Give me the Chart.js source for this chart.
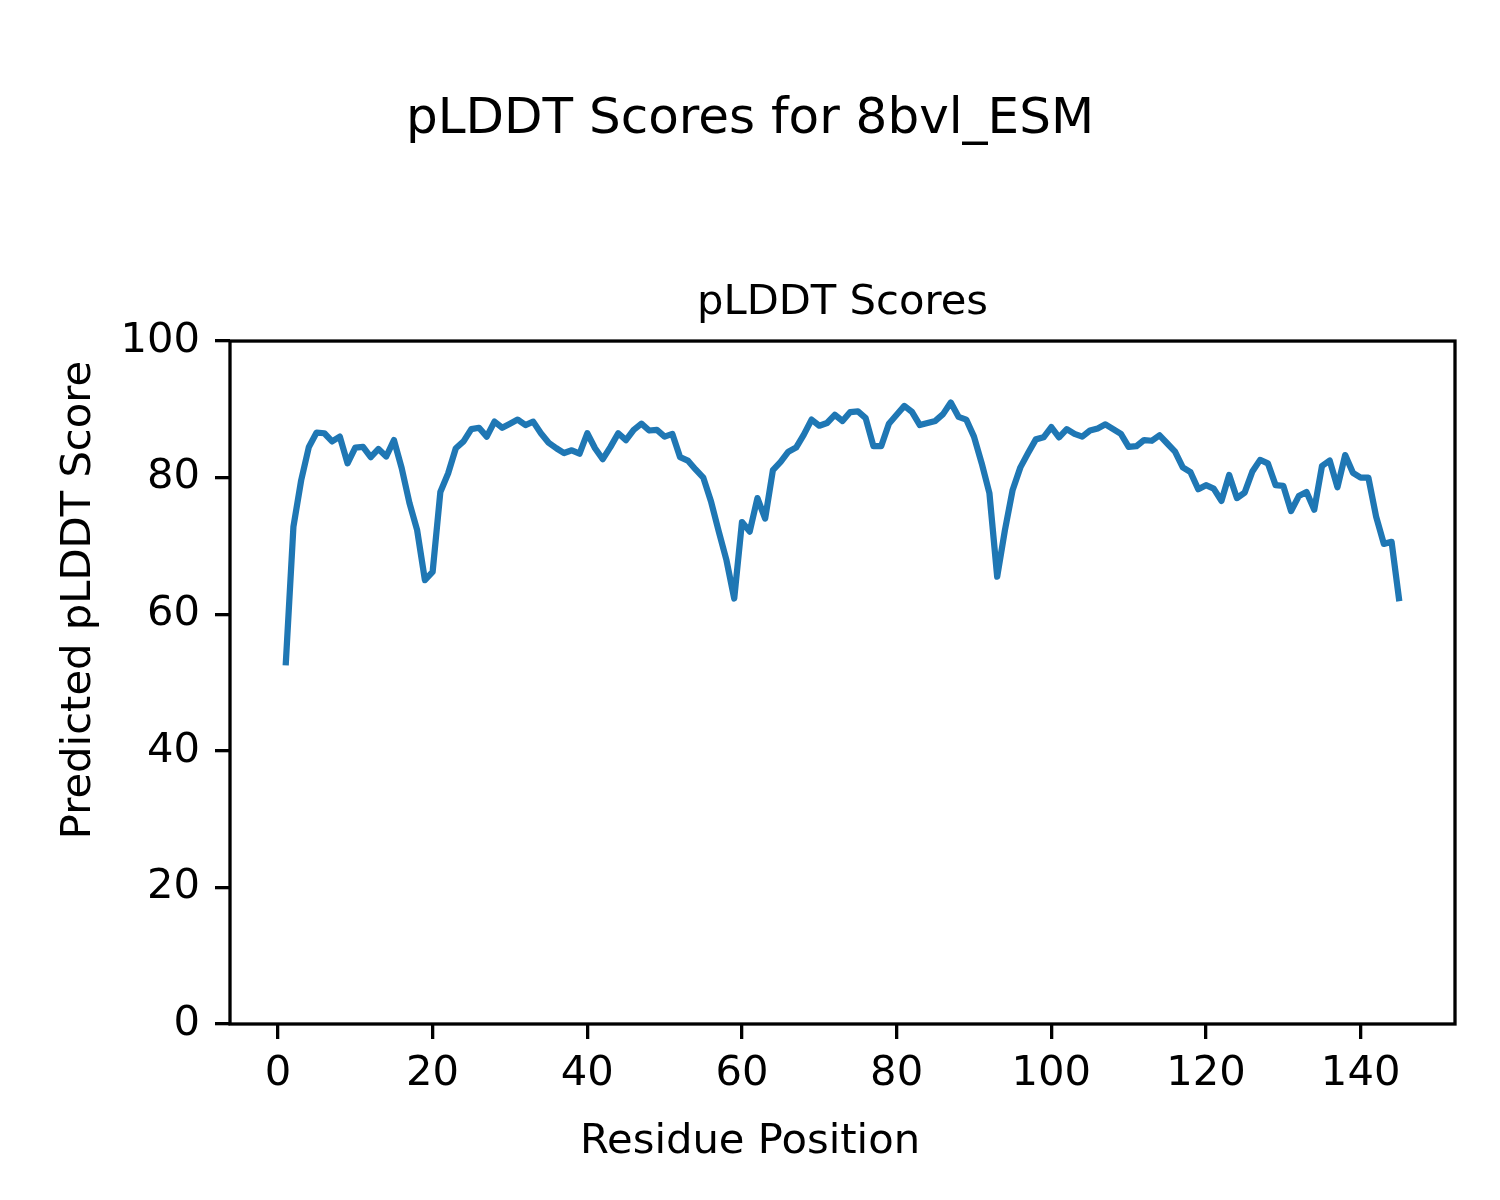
<!DOCTYPE html>
<html>
<head>
<meta charset="utf-8">
<script src="https://cdn.jsdelivr.net/npm/chart.js@4.4.1/dist/chart.umd.min.js"></script>
<style>
  html, body { margin: 0; padding: 0; background: #fff; }
  #wrap { width: 1500px; height: 1200px; }
</style>
</head>
<body>
<div id="wrap"><canvas id="plddtChart" width="1500" height="1200"></canvas></div>
<script>
// residue positions 1..145 and their pLDDT scores
const residues = [];
for (let i = 1; i <= 145; i++) residues.push(i);

const plddt = [
  52.5, 72.8, 79.6, 84.5, 86.6, 86.5, 85.3, 86.0, 82.1, 84.4,
  84.5, 83.0, 84.2, 83.1, 85.5, 81.4, 76.3, 72.3, 65.0, 66.2,
  77.9, 80.6, 84.3, 85.3, 87.1, 87.3, 86.0, 88.2, 87.3, 87.9,
  88.5, 87.7, 88.2, 86.5, 85.1, 84.3, 83.6, 84.0, 83.5, 86.5,
  84.3, 82.7, 84.5, 86.5, 85.5, 87.0, 87.9, 86.9, 87.0, 86.0,
  86.4, 83.0, 82.5, 81.2, 80.0, 76.5, 72.1, 67.9, 62.3, 73.5,
  72.1, 77.0, 74.0, 81.1, 82.3, 83.8, 84.4, 86.3, 88.5, 87.6,
  88.0, 89.2, 88.3, 89.6, 89.7, 88.7, 84.6, 84.6, 87.9, 89.2,
  90.5, 89.6, 87.7, 88.0, 88.3, 89.3, 91.0, 88.9, 88.5, 86.0,
  82.1, 77.7, 65.5, 72.3, 78.2, 81.5, 83.6, 85.6, 85.9, 87.4,
  85.9, 87.1, 86.4, 86.0, 86.9, 87.2, 87.8, 87.1, 86.4, 84.5,
  84.6, 85.5, 85.4, 86.2, 85.0, 83.8, 81.5, 80.8, 78.3, 78.9,
  78.4, 76.6, 80.4, 77.0, 77.8, 80.9, 82.6, 82.1, 78.9, 78.8,
  75.1, 77.3, 77.9, 75.3, 81.7, 82.5, 78.6, 83.3, 80.7, 80.0,
  80.0, 74.3, 70.3, 70.6, 61.9
];

const xTicks = [0, 20, 40, 60, 80, 100, 120, 140];
const yTicks = [0, 20, 40, 60, 80, 100];

const xLabel = 'Residue Position';
const yLabel = 'Predicted pLDDT Score';

const FONT = 'DejaVu Sans';

// box round the axes + figure-level axis labels (centred on the figure, not the axes)
const frame = {
  id: 'frame',
  afterDraw(chart) {
    const { ctx, chartArea: a, width, height } = chart;
    ctx.save();
    ctx.strokeStyle = '#000';
    ctx.lineWidth = 3.3;
    ctx.strokeRect(a.left, a.top, a.right - a.left, a.bottom - a.top);

    ctx.fillStyle = '#000';
    ctx.font = '41.7px "' + FONT + '"';
    ctx.textAlign = 'center';
    ctx.textBaseline = 'alphabetic';
    ctx.fillText(xLabel, width / 2, 1153);

    ctx.translate(90, height / 2);
    ctx.rotate(-Math.PI / 2);
    ctx.fillText(yLabel, 0, 0);
    ctx.restore();
  }
};

new Chart(document.getElementById('plddtChart'), {
  type: 'line',
  data: {
    datasets: [{
      data: residues.map((r, i) => ({ x: r, y: plddt[i] })),
      borderColor: '#1f77b4',
      borderWidth: 6.25,
      borderJoinStyle: 'round',
      borderCapStyle: 'butt',
      pointRadius: 0,
      tension: 0,
      fill: false
    }]
  },
  options: {
    responsive: false,
    animation: false,
    devicePixelRatio: 1,
    layout: { padding: { left: 45, right: 45, top: 0, bottom: 0 } },
    plugins: {
      legend: { display: false },
      tooltip: { enabled: false },
      title: {
        display: true,
        text: 'pLDDT Scores for 8bvl_ESM',
        color: '#000',
        font: { family: FONT, size: 50, weight: 'normal', lineHeight: 1.2 },
        padding: { top: 90, bottom: 128 }
      },
      subtitle: {
        display: true,
        fullSize: false,
        text: 'pLDDT Scores',
        color: '#000',
        font: { family: FONT, size: 41.7, weight: 'normal', lineHeight: 1.2 },
        padding: { top: 0, bottom: 13 }
      }
    },
    scales: {
      x: {
        type: 'linear',
        min: -6.2,
        max: 152.2,
        afterBuildTicks: (scale) => { scale.ticks = xTicks.map(v => ({ value: v })); },
        afterFit: (scale) => { scale.height = 176; },
        grid: { drawOnChartArea: false, tickLength: 15, lineWidth: 3.3, color: '#000' },
        border: { display: false },
        ticks: { color: '#000', padding: 10, maxRotation: 0, font: { family: FONT, size: 41.7 } }
      },
      y: {
        min: 0,
        max: 100,
        afterBuildTicks: (scale) => { scale.ticks = yTicks.map(v => ({ value: v })); },
        afterFit: (scale) => { scale.width = 185; },
        grid: { drawOnChartArea: false, tickLength: 15, lineWidth: 3.3, color: '#000' },
        border: { display: false },
        ticks: { color: '#000', padding: 15, font: { family: FONT, size: 41.7 } }
      }
    }
  },
  plugins: [frame]
});
</script>
</body>
</html>
